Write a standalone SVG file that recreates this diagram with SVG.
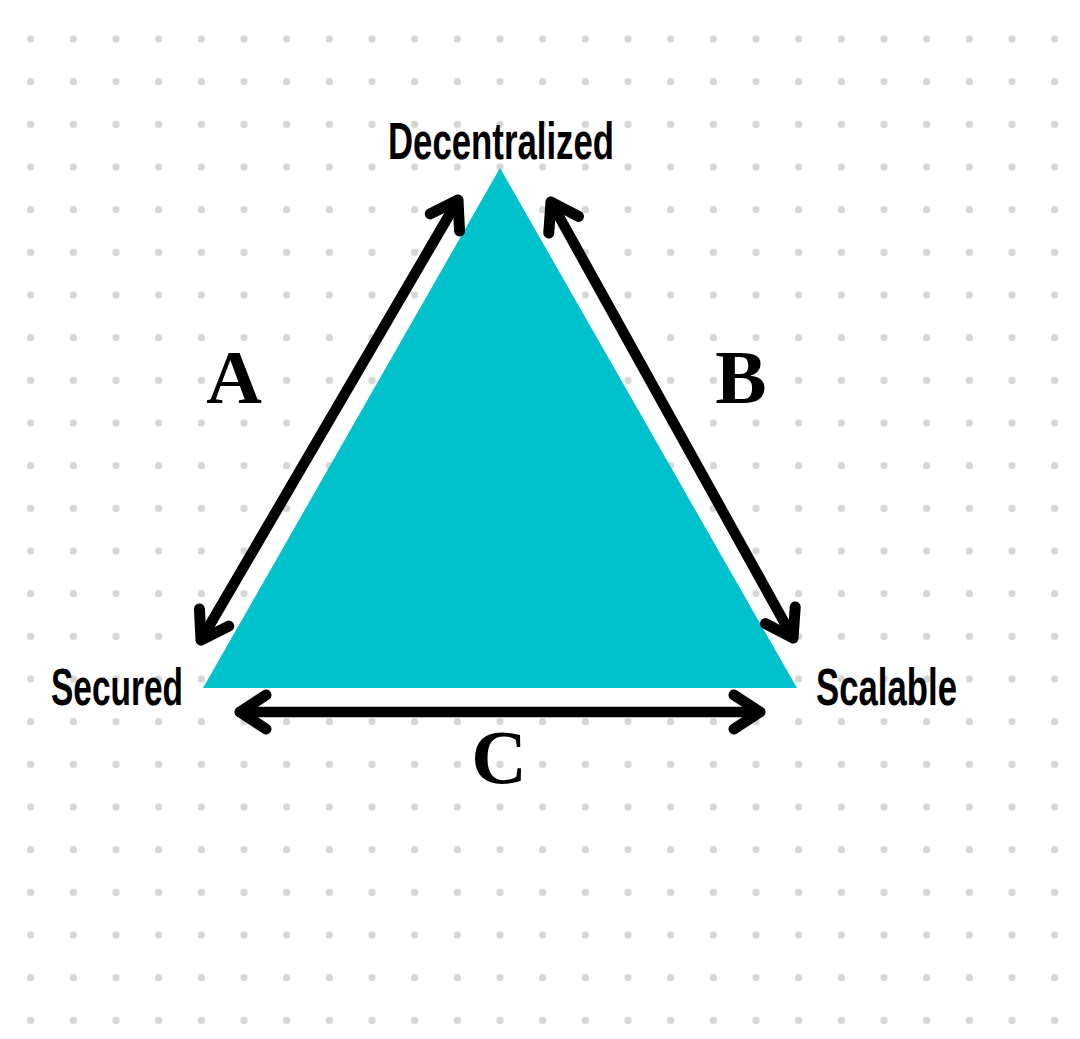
<svg xmlns="http://www.w3.org/2000/svg" width="1080" height="1039" viewBox="0 0 1080 1039">
<defs>
<pattern id="dots" patternUnits="userSpaceOnUse" x="9.33" y="17.67" width="42.667" height="42.667">
<circle cx="21.33" cy="21.33" r="3.6" fill="#d6d6d6"/>
</pattern>
<marker id="chev" markerUnits="userSpaceOnUse" markerWidth="80" markerHeight="80" refX="0" refY="0" viewBox="-40 -40 80 80" orient="auto-start-reverse" overflow="visible">
<path d="M -26 -17 L 0 0 L -26 17" fill="none" stroke="#000" stroke-width="11" stroke-linecap="round" stroke-linejoin="round"/>
</marker>
</defs>
<style>
.lbl{font-family:"Liberation Sans",Arial,sans-serif;font-weight:bold;font-size:52px;fill:#000}
.let{font-family:"Liberation Serif","Times New Roman",serif;font-weight:bold;font-size:77px;fill:#000;text-anchor:middle}
.arr{fill:none;stroke:#000;stroke-width:10.5;stroke-linecap:round;marker-start:url(#chev);marker-end:url(#chev)}
</style>
<rect width="1080" height="1039" fill="#ffffff"/>
<rect width="1080" height="1039" fill="url(#dots)"/>
<g id="triangle">
<polygon points="500,168 203,688 797,688" fill="#00c2cc"/>
</g>
<g id="connectors">
<line class="arr" x1="201" y1="640" x2="458" y2="200"/>
<line class="arr" x1="551" y1="202" x2="793" y2="638"/>
<line class="arr" x1="240" y1="712" x2="760" y2="712"/>
</g>
<g id="node-decentralized">
<text class="lbl" x="388" y="159" textLength="226" lengthAdjust="spacingAndGlyphs">Decentralized</text>
</g>
<g id="node-secured">
<text class="lbl" x="51" y="705" textLength="132" lengthAdjust="spacingAndGlyphs">Secured</text>
</g>
<g id="node-scalable">
<text class="lbl" x="816" y="705" textLength="141" lengthAdjust="spacingAndGlyphs">Scalable</text>
</g>
<g id="label-a"><text class="let" x="234" y="403">A</text></g>
<g id="label-b"><text class="let" x="741" y="403">B</text></g>
<g id="label-c"><text class="let" x="499" y="783">C</text></g>
</svg>
